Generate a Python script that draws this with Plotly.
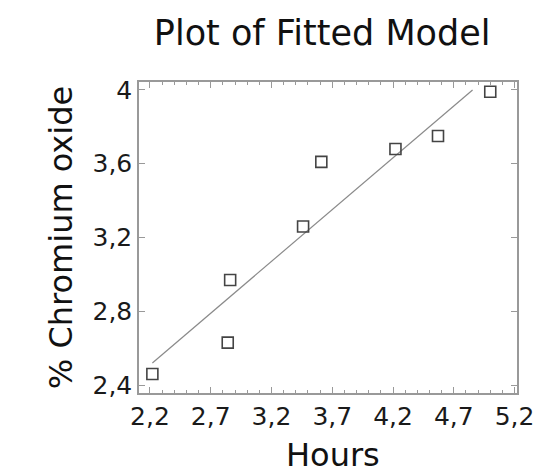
import numpy as np
import plotly.graph_objects as go

hours = [2.22, 2.84, 2.86, 3.46, 3.61, 4.22, 4.57, 5.00]
chromium = [2.46, 2.63, 2.97, 3.26, 3.61, 3.68, 3.75, 3.99]
x_ticks = [2.2, 2.7, 3.2, 3.7, 4.2, 4.7, 5.2]
y_ticks = [2.4, 2.8, 3.2, 3.6, 4.0]
line_top = 4.0

slope, intercept = np.polyfit(hours, chromium, 1)
fit_x = [min(hours), (line_top - intercept) / slope]
fit_y = [intercept + slope * v for v in fit_x]

font = "DejaVu Sans, sans-serif"

fig = go.Figure()
fig.add_trace(go.Scatter(x=fit_x, y=fit_y, mode="lines",
                         line=dict(color="#8a8a8a", width=1.2),
                         showlegend=False, hoverinfo="skip"))
fig.add_trace(go.Scatter(x=hours, y=chromium, mode="markers",
                         marker=dict(symbol="square-open", size=11,
                                     color="#444444", line=dict(width=1.6)),
                         showlegend=False))

fig.update_layout(
    width=546, height=473,
    margin=dict(l=139, r=24, t=82, b=80),
    paper_bgcolor="white", plot_bgcolor="white",
    separators=",.",
    font=dict(family=font, color="#1a1a1a"),
    title=dict(text="Plot of Fitted Model", x=0.59, xanchor="center",
               y=0.930, yanchor="middle",
               font=dict(size=35, color="#111111")),
)
fig.add_annotation(text="Hours", xref="paper", yref="paper",
                   x=0.512, y=-0.198, xanchor="center", yanchor="middle",
                   showarrow=False, font=dict(size=32, color="#111111"))
fig.update_xaxes(
    range=[2.11, 5.22], tickvals=x_ticks,
    ticktext=[f"{v:.1f}".replace(".", ",") for v in x_ticks],
    showgrid=False, zeroline=False,
    showline=True, linecolor="#999999", linewidth=1.5, mirror="ticks",
    ticks="inside", ticklen=6, tickcolor="#999999", tickwidth=1.2,
    minor=dict(dtick=0.1, tick0=2.2, ticks="inside", ticklen=3,
               tickcolor="#999999", tickwidth=1),
    tickfont=dict(size=25, color="#1a1a1a"),
)
fig.update_yaxes(
    range=[2.357, 4.043], tickvals=y_ticks,
    ticktext=[("4" if v == 4.0 else f"{v:.1f}".replace(".", ",")) for v in y_ticks],
    showgrid=False, zeroline=False,
    showline=True, linecolor="#999999", linewidth=1.5, mirror="ticks",
    ticks="inside", ticklen=6, tickcolor="#999999", tickwidth=1.2,
    tickfont=dict(size=25, color="#1a1a1a"),
    title=dict(text="% Chromium oxide", font=dict(size=32, color="#111111"), standoff=10),
)

fig.write_html("out.html")
